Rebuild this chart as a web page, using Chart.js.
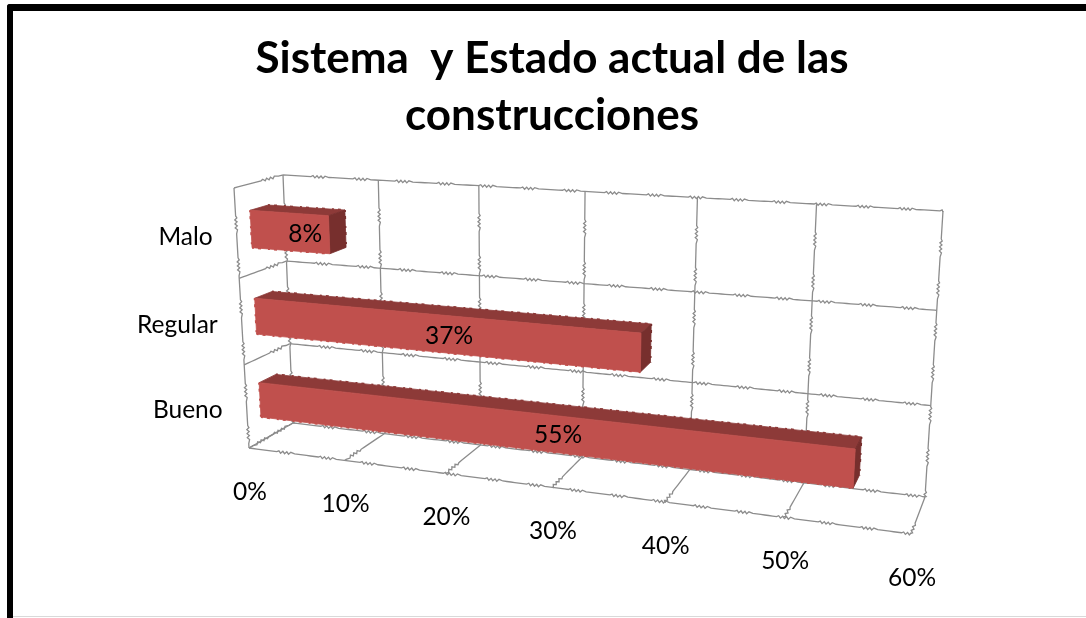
<!DOCTYPE html>
<html>
<head>
<meta charset="utf-8">
<title>Sistema y Estado actual de las construcciones</title>
<script src="https://cdn.jsdelivr.net/npm/chart.js@4/dist/chart.umd.min.js"></script>
<style>
	html, body { margin: 0; padding: 0; background: #fff; overflow: hidden; }
	#frame { position: absolute; left: 7px; top: 4px; width: 1079px; height: 614px; box-sizing: border-box;
		border-left: 6px solid #000; border-top: 7px solid #000; border-top-left-radius: 3px; }
	#foot { position: absolute; left: 13px; top: 616px; width: 1073px; height: 1px; background: #d9d9d9; }
	#wrap { position: absolute; left: 0; top: 0; width: 1086px; height: 618px; }
</style>
</head>
<body>
<div id="frame"></div>
<div id="foot"></div>
<div id="wrap"><canvas id="barChart" width="1086" height="618"></canvas></div>
<script>
var categories = ["Malo", "Regular", "Bueno"];
var values = [8, 37, 55];
var valueLabels = ["8%", "37%", "55%"];
var xTicks = [0, 10, 20, 30, 40, 50, 60];
var xTickLabels = ["0%", "10%", "20%", "30%", "40%", "50%", "60%"];
var titleLines = ["Sistema  y Estado actual de las", "construcciones"];

// corners of the 3d box on screen: f/b = front/back, t/b = top/bottom, l/r = left/right
var box = {
	ftl: [234, 188], ftr: [930, 234], fbl: [249, 448], fbr: [911, 534],
	btl: [283, 175], btr: [943, 211], bbl: [293, 423], bbr: [925, 497]
};
var warpX = 1.185, warpY = 0.94;
var barFront = 0.3, barBack = 0.67;
var gridColor = "#8c8c8c";
var labelNudge = [14, 3, 12];

function mix(a, b, t) {
	return [a[0] + (b[0] - a[0]) * t, a[1] + (b[1] - a[1]) * t];
}

// u, v in 0..1 across the chart area, d is depth 0 (front) .. 1 (back)
function project(u, v, d) {
	var uu = u / (warpX - (warpX - 1) * u);
	var vv = v / (warpY - (warpY - 1) * v);
	var front = mix(mix(box.ftl, box.ftr, uu), mix(box.fbl, box.fbr, uu), vv);
	var back = mix(mix(box.btl, box.btr, uu), mix(box.bbl, box.bbr, uu), vv);
	return mix(front, back, d);
}

// the reference grid is a scaled-up metafile line: straight runs with small zigzag stretches
function line(ctx, a, b) {
	var dx = b[0] - a[0], dy = b[1] - a[1];
	var len = Math.sqrt(dx * dx + dy * dy);
	var ux = dx / len, uy = dy / len;
	var s = 0, flip = 1;
	ctx.beginPath();
	ctx.moveTo(a[0], a[1]);
	while (s < len) {
		var inZig = (s % 42) > 26;
		s += inZig ? 2 : 4;
		if (s > len) s = len;
		var off = inZig ? flip * 1.1 : 0;
		flip = -flip;
		ctx.lineTo(a[0] + ux * s - uy * off, a[1] + uy * s + ux * off);
	}
	ctx.stroke();
}

function face(ctx, pts, color) {
	ctx.fillStyle = color;
	ctx.strokeStyle = color;
	ctx.lineWidth = 0.8;
	ctx.beginPath();
	ctx.moveTo(pts[0][0], pts[0][1]);
	for (var i = 1; i < pts.length; i++) ctx.lineTo(pts[i][0], pts[i][1]);
	ctx.closePath();
	ctx.fill();
	ctx.stroke();
}

// serrated rim along an outer bar edge
function teeth(ctx, a, b, color) {
	ctx.save();
	ctx.strokeStyle = color;
	ctx.lineWidth = 2;
	ctx.setLineDash([2, 4, 3, 7]);
	ctx.beginPath();
	ctx.moveTo(a[0], a[1]);
	ctx.lineTo(b[0], b[1]);
	ctx.stroke();
	ctx.restore();
}

var box3d = {
	id: "box3d",
	beforeDatasetsDraw: function(chart) {
		var ctx = chart.ctx, area = chart.chartArea;
		var xs = chart.scales.x, ys = chart.scales.y;
		var U = function(px) { return (px - area.left) / area.width; };
		var V = function(px) { return (px - area.top) / area.height; };
		var i;

		ctx.save();
		ctx.strokeStyle = gridColor;
		ctx.lineWidth = 1.3;
		xTicks.forEach(function(t) {
			var u = U(xs.getPixelForValue(t));
			line(ctx, project(u, 0, 1), project(u, 1, 1));
			line(ctx, project(u, 1, 1), project(u, 1, 0));
		});
		for (i = 0; i <= categories.length; i++) {
			var v = i / categories.length;
			line(ctx, project(0, v, 1), project(1, v, 1));
			line(ctx, project(0, v, 0), project(0, v, 1));
		}
		line(ctx, project(0, 0, 0), project(0, 1, 0));
		line(ctx, project(0, 1, 0), project(1, 1, 0));

		// tick labels
		ctx.fillStyle = "#000";
		ctx.font = "24.5px Lato";
		ctx.textBaseline = "middle";
		ctx.textAlign = "center";
		xTicks.forEach(function(t, n) {
			var p = project(U(xs.getPixelForValue(t)), 1, 0);
			ctx.fillText(xTickLabels[n], p[0] + 1, p[1] + 44);
		});
		ctx.textAlign = "right";
		categories.forEach(function(c, n) {
			var p = project(0, V(ys.getPixelForValue(n)), 0);
			ctx.fillText(c, p[0] - 24, p[1] + 3);
		});

		// bars, drawn from the elements the bar controller laid out
		var bars = chart.getDatasetMeta(0).data;
		bars.forEach(function(bar) {
			var u0 = U(bar.base), u1 = U(bar.x);
			var v0 = V(bar.y - bar.height / 2), v1 = V(bar.y + bar.height / 2);
			var a = project(u0, v0, barFront), b = project(u1, v0, barFront);
			var c = project(u1, v1, barFront), e = project(u0, v1, barFront);
			var a2 = project(u0, v0, barBack), b2 = project(u1, v0, barBack), c2 = project(u1, v1, barBack);
			teeth(ctx, a2, b2, "#8d3a38");
			teeth(ctx, b2, c2, "#772f2d");
			teeth(ctx, e, c, "#c0504d");
			teeth(ctx, a, e, "#c0504d");
			face(ctx, [a, b, b2, a2], "#8d3a38");
			face(ctx, [b, c, c2, b2], "#772f2d");
			face(ctx, [a, b, c, e], "#c0504d");
		});
		ctx.fillStyle = "#000";
		ctx.textAlign = "center";
		bars.forEach(function(bar, n) {
			var p = project(U(xs.getPixelForValue(values[n] * 0.52)), V(bar.y), barFront);
			ctx.fillText(valueLabels[n], p[0] + labelNudge[n], p[1] + 2);
		});
		ctx.restore();
		return false;
	}
};

var ctx = document.getElementById("barChart").getContext("2d");
new Chart(ctx, {
	type: "bar",
	data: {
		labels: categories,
		datasets: [{
			data: values,
			backgroundColor: "#c0504d",
			barPercentage: 0.42,
			categoryPercentage: 1
		}]
	},
	options: {
		indexAxis: "y",
		responsive: false,
		animation: false,
		layout: { padding: { left: 24, right: 6, top: 30, bottom: 40 } },
		scales: {
			x: { display: false, min: 0, max: 60 },
			y: { display: false }
		},
		plugins: {
			legend: { display: false },
			tooltip: { enabled: false },
			title: {
				display: true,
				text: titleLines,
				color: "#000",
				font: { family: "Lato", size: 44, weight: "bold", lineHeight: 1.3 },
				padding: { top: 0, bottom: 10 }
			}
		}
	},
	plugins: [box3d]
});
</script>
</body>
</html>
